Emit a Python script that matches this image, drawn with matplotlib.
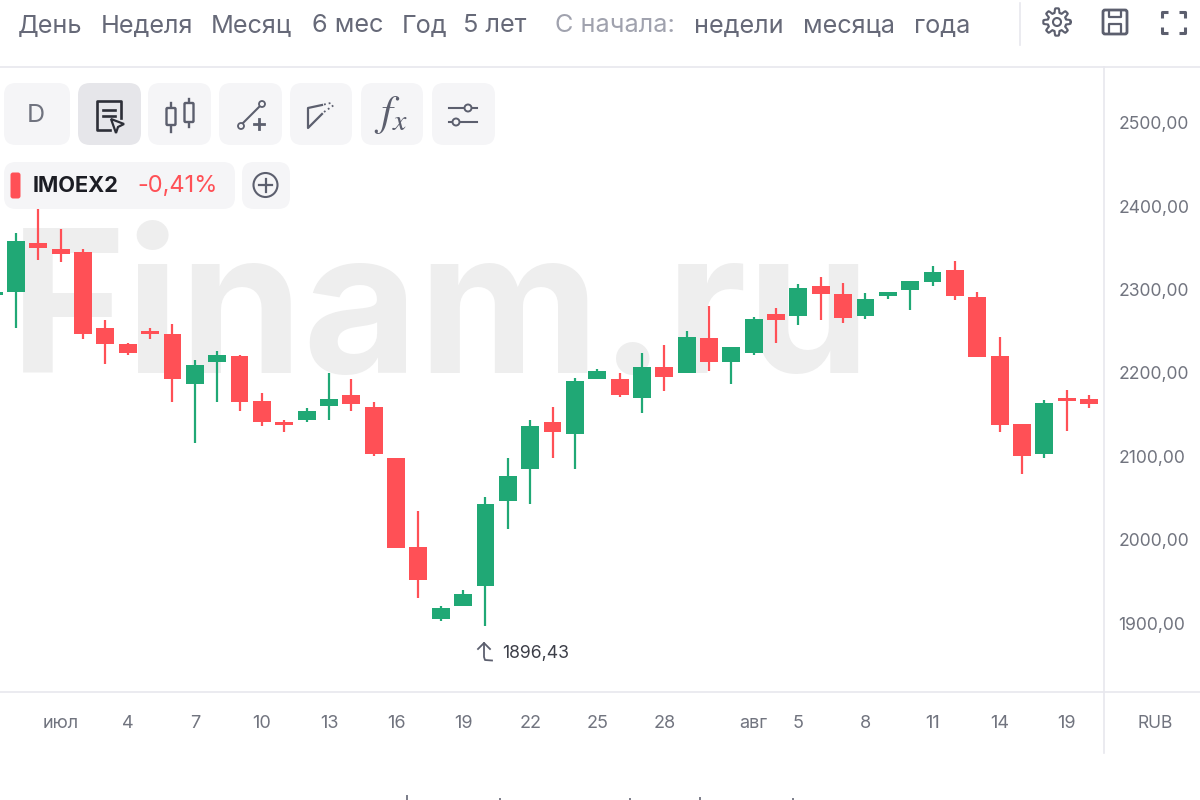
import matplotlib
matplotlib.use('Agg')
import matplotlib.pyplot as plt
import numpy as np
from matplotlib.patches import FancyBboxPatch, Circle, Polygon

plt.rcParams['font.family'] = ['Inter', 'DejaVu Sans']
plt.rcParams['mathtext.fontset'] = 'stix'

# first entry is the candle cut off by the left edge
highs = [2298.0, 2368.4, 2396.8, 2372.8, 2348.8, 2263.6, 2235.6, 2254.4, 2259.2, 2215.6, 2226.0, 2221.6,
         2176.4, 2143.6, 2157.6, 2200.4, 2192.4, 2164.8, 2097.6, 2034.0, 1920.8, 1939.6, 2050.8, 2097.6,
         2143.6, 2159.6, 2194.4, 2204.8, 2199.6, 2223.6, 2234.0, 2250.4, 2280.8, 2231.6, 2267.6, 2278.0,
         2307.2, 2315.6, 2308.4, 2295.6, 2297.6, 2310.8, 2328.8, 2334.8, 2297.2, 2243.6, 2139.2, 2167.2,
         2179.2, 2173.2]
lows = [2293.0, 2254.0, 2335.6, 2332.8, 2240.8, 2210.8, 2221.2, 2240.8, 2165.2, 2115.6, 2165.2, 2154.8,
        2136.8, 2129.2, 2140.8, 2143.2, 2154.8, 2100.4, 1989.6, 1930.4, 1902.4, 1920.8, 1896.43, 2012.8,
        2042.4, 2098.0, 2084.4, 2192.8, 2170.8, 2152.4, 2178.8, 2200.4, 2202.4, 2186.8, 2221.2, 2235.6,
        2257.2, 2264.0, 2259.6, 2265.2, 2288.8, 2276.0, 2304.8, 2287.2, 2218.8, 2128.8, 2078.4, 2097.6,
        2130.8, 2157.6]
opens = [2294.0, 2297.6, 2356.4, 2348.8, 2344.8, 2254.4, 2235.2, 2250.8, 2246.4, 2186.8, 2212.8, 2220.8,
         2166.8, 2140.8, 2143.2, 2160.4, 2173.2, 2159.6, 2097.6, 1991.6, 1905.2, 1920.8, 1944.8, 2046.4,
         2084.4, 2140.8, 2126.4, 2192.8, 2192.4, 2169.6, 2207.6, 2200.4, 2242.4, 2212.8, 2224.0, 2270.8,
         2268.0, 2304.8, 2294.8, 2268.0, 2292.0, 2299.6, 2308.8, 2323.6, 2291.6, 2220.8, 2139.2, 2102.8,
         2169.6, 2169.2]
closes = [2297.0, 2358.8, 2349.6, 2342.4, 2246.8, 2234.4, 2224.0, 2246.4, 2192.8, 2210.0, 2221.2, 2165.2,
          2141.2, 2137.2, 2154.8, 2169.2, 2162.8, 2102.8, 1989.6, 1952.0, 1917.6, 1934.4, 2042.4, 2076.0,
          2136.8, 2129.2, 2190.8, 2202.4, 2173.6, 2207.6, 2194.8, 2243.2, 2212.8, 2231.6, 2265.2, 2264.0,
          2302.0, 2295.2, 2265.6, 2289.2, 2297.2, 2310.8, 2320.8, 2292.0, 2218.8, 2137.2, 2100.4, 2164.4,
          2166.4, 2162.4]

price_ticks = [1900, 2000, 2100, 2200, 2300, 2400, 2500]
date_pos = [3, 6, 9, 12, 15, 18, 21, 24, 27, 30, 34, 36, 39, 42, 45, 48]
date_labels = ['июл', '4', '7', '10', '13', '16', '19', '22', '25', '28', 'авг', '5', '8', '11', '14', '19']
period_labels = ['День', 'Неделя', 'Месяц', '6 мес', 'Год', '5 лет', 'С начала:', 'недели', 'месяца', 'года']
period_x = [18, 101, 211, 312, 402, 463, 555, 694, 803, 914]

GREEN = '#20a875'
RED = '#ff5056'
TEXT = '#71747f'
ICON = '#5c5f6e'
LINE = '#e8e8ee'
BTN = '#f5f5f7'

fig = plt.figure(figsize=(12, 8), dpi=100)

# page layer in pixel coordinates
ui = fig.add_axes([0, 0, 1, 1], zorder=0)
ui.set_xlim(0, 1200)
ui.set_ylim(800, 0)
ui.axis('off')

for lab, x in zip(period_labels, period_x):
    col = '#a0a2ae' if lab.startswith('С') else '#666978'
    ui.text(x, 26, lab, fontsize=18.2, color=col, va='center', ha='left')

ui.plot([0, 1200], [67, 67], color=LINE, lw=1.2)
ui.plot([0, 1200], [691.5, 691.5], color=LINE, lw=1.2)
ui.plot([1104, 1104], [67, 753], color=LINE, lw=1.2)
ui.plot([1020, 1020], [3, 45], color=LINE, lw=1.2)

ui.text(10, 373, 'Finam.ru', fontsize=143, fontweight='bold', color='#eeeeee', va='baseline', ha='left')


def button(x0, y0, x1, y1, col=BTN):
    ui.add_patch(FancyBboxPatch((x0 + 12, y0 + 12), x1 - x0 - 24, y1 - y0 - 24, boxstyle='round,pad=12',
                                fc=col, ec='none', zorder=3))


for x0, x1 in [(4, 70), (148, 211), (219, 282), (290, 352), (361, 423), (432, 495)]:
    button(x0, 83, x1, 145)
button(78, 83, 141, 145, '#e6e6ea')
button(4, 162, 235, 209)
button(242, 162, 290, 209)

ui.text(36, 115, 'D', fontsize=18, color='#70737f', ha='center', va='center', zorder=4)

# report icon
ui.plot([110, 97, 97, 121, 121], [130, 130, 101, 101, 118], color='#2d2f38', lw=1.9, zorder=4)
ui.plot([103, 115], [110, 110], color='#2d2f38', lw=1.9, zorder=4)
ui.plot([103, 115], [116, 116], color='#2d2f38', lw=1.9, zorder=4)
ui.add_patch(Polygon([(111, 119), (124, 124), (118, 127), (116, 133)], fc='#e6e6ea', ec='#2d2f38', lw=1.6, zorder=5))

# candles icon
for cx, y0, y1, b0, b1 in [(171, 103, 132, 108, 125), (189, 99, 127, 103, 122)]:
    ui.plot([cx, cx], [y0, y1], color=ICON, lw=1.7, zorder=4)
    ui.add_patch(FancyBboxPatch((cx - 3.5, b0 + 1), 7, b1 - b0 - 2, boxstyle='round,pad=1', fc=BTN, ec=ICON, lw=1.7, zorder=5))

# trend line icon
ui.plot([241, 261], [125, 105], color=ICON, lw=1.5, zorder=4)
ui.add_patch(Circle((241, 126), 3, fc=BTN, ec=ICON, lw=1.3, zorder=5))
ui.add_patch(Circle((262, 104), 3, fc=BTN, ec=ICON, lw=1.3, zorder=5))
ui.plot([254, 264], [124, 124], color=ICON, lw=2, zorder=5)
ui.plot([259, 259], [119, 129], color=ICON, lw=2, zorder=5)

# channel icon
ui.plot([322, 308, 308, 322], [105, 108, 128, 114], color=ICON, lw=1.6, zorder=4)
ui.plot([324, 333], [104.5, 102.5], color=ICON, lw=1.3, ls=':', zorder=4)
ui.plot([324, 334], [112, 105], color=ICON, lw=1.3, ls=':', zorder=4)

ui.text(391, 115, r'$f_x$', fontsize=31, color=ICON, ha='center', va='center', zorder=4)

# settings icon
ui.plot([449, 477], [108, 108], color=ICON, lw=1.5, zorder=4)
ui.plot([449, 477], [122, 122], color=ICON, lw=1.5, zorder=4)
ui.add_patch(Circle((468, 108), 3.5, fc=BTN, ec=ICON, lw=1.4, zorder=5))
ui.add_patch(Circle((456, 122), 3.5, fc=BTN, ec=ICON, lw=1.4, zorder=5))

# legend pill
ui.add_patch(FancyBboxPatch((13, 175), 5, 21, boxstyle='round,pad=2.5', fc=RED, ec='none', zorder=4))
ui.text(33, 186, 'IMOEX2', fontsize=15.7, fontweight='bold', color='#1c1d24', va='center', zorder=4)
ui.text(137, 186, '-0,41%', fontsize=17, color=RED, va='center', zorder=4)
ui.add_patch(Circle((265.5, 185), 12, fc='none', ec=ICON, lw=1.5, zorder=4))
ui.plot([259, 272], [185, 185], color=ICON, lw=1.6, zorder=4)
ui.plot([265.5, 265.5], [178.5, 191.5], color=ICON, lw=1.6, zorder=4)

# gear
ang = np.linspace(0, 2 * np.pi, 161)
rad = 11.5 + 2.2 * np.clip(2.2 * np.cos(8 * ang), -1, 1)
ui.plot(1057 + rad * np.cos(ang), 22 + rad * np.sin(ang), color=ICON, lw=1.5)
ui.add_patch(Circle((1057, 22), 4, fc='none', ec=ICON, lw=1.5))

# floppy
ui.add_patch(FancyBboxPatch((1105, 12), 20, 20, boxstyle='round,pad=2', fc='none', ec=ICON, lw=2))
ui.plot([1109, 1109, 1121, 1121], [11, 17, 17, 11], color=ICON, lw=1.6)
ui.plot([1109, 1109, 1121, 1121], [33, 24, 24, 33], color=ICON, lw=1.6)

# fullscreen corners
for sx, sy in [(1162, 12), (1185, 12), (1162, 33), (1185, 33)]:
    dx = 6 if sx < 1170 else -6
    dy = 6 if sy < 20 else -6
    ui.plot([sx + dx, sx, sx], [sy, sy, sy + dy], color=ICON, lw=2.2, solid_capstyle='butt')

ui.text(1155, 723, 'RUB', fontsize=12.5, color=TEXT, ha='center', va='center')

# arrow for the minimum
ui.plot([484, 484, 485, 492], [643, 657, 660, 660.5], color=ICON, lw=1.3)
ui.plot([478, 484, 490], [649, 643, 649], color=ICON, lw=1.3)

# tops of the cropped line at the bottom edge
for x, h in [(407, 4), (500, 1.5), (630, 1.5), (700, 2), (793, 1)]:
    ui.plot([x, x], [800 - h, 800], color='#7a7c88', lw=1.4)

# price chart
ax = fig.add_axes([0, 109 / 800, 1104 / 1200, 624 / 800], zorder=1)
ax.patch.set_alpha(0)
for s in ax.spines.values():
    s.set_visible(False)

idx = np.arange(len(opens))
opens_a, closes_a = np.array(opens), np.array(closes)
colors = [GREEN if c >= o else RED for o, c in zip(opens, closes)]
ax.vlines(idx, lows, highs, colors=colors, lw=1.6)
ax.bar(idx, np.abs(closes_a - opens_a), bottom=np.minimum(opens_a, closes_a), width=0.8, color=colors)

ax.set_xlim(0.284, 49.67)
ax.set_ylim(1818.4, 2567.2)
ax.yaxis.tick_right()
ax.set_yticks(price_ticks)
ax.set_yticklabels(['%d,00' % p for p in price_ticks])
ax.set_xticks(date_pos)
ax.set_xticklabels(date_labels)
ax.tick_params(axis='y', length=0, pad=10.5, labelsize=12.6, labelcolor=TEXT)
ax.tick_params(axis='x', length=0, pad=17, labelsize=13, labelcolor=TEXT)

low_i = int(np.argmin(lows))
ax.annotate(('%.2f' % lows[low_i]).replace('.', ','), xy=(low_i, lows[low_i]), xytext=(12, -20),
            textcoords='offset points', fontsize=12.7, color='#3c3e48', va='center', ha='left')

fig.savefig('out.png', dpi=100)
